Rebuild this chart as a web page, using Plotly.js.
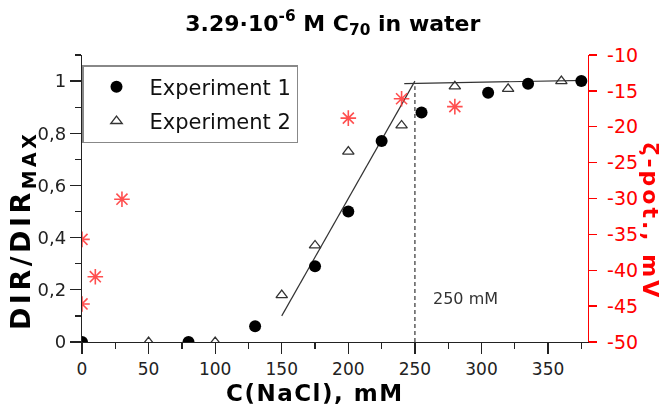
<!DOCTYPE html>
<html>
<head>
<meta charset="utf-8">
<script src="https://cdn.plot.ly/plotly-3.0.1.min.js"></script>
<style>
  html, body { margin: 0; padding: 0; background: #ffffff; }
  #chart { width: 663px; height: 408px; }
</style>
</head>
<body>
<div id="chart"></div>
<script>
// NaCl concentration (mM) and normalised DIR for the two runs
const exp1X = [0, 80, 130, 175, 200, 225, 255, 305, 335, 375];
const exp1Y = [0, 0, 0.06, 0.29, 0.50, 0.77, 0.88, 0.955, 0.99, 1.0];
const exp2X = [50, 100, 150, 175, 200, 240, 280, 320, 360];
const exp2Y = [0, 0, 0.18, 0.37, 0.73, 0.83, 0.98, 0.97, 1.0];

// zeta potential (mV) vs NaCl concentration
const zetaX = [0, 0, 10, 30, 200, 240, 280];
const zetaY = [-35.7, -44.7, -40.9, -30.1, -18.8, -16.1, -17.2];

// linear fits: rising branch, plateau, and the critical concentration
const riseX = [150, 250];
const riseY = [0.10, 1.0];
const plateauX = [242, 378];
const plateauY = [0.99, 1.003];
const cccX = [250, 250];
const cccY = [0, 0.98];

// right-axis tick labels
const zetaTicks = [-50, -45, -40, -35, -30, -25, -20, -15, -10];
const zetaTickText = ['-50', '-45', '-40', '-35', '-30', '-25', '-20', '-15', '-10'];

const FONT = 'DejaVu Sans, Verdana, sans-serif';

const traces = [
  {
    x: riseX, y: riseY, type: 'scatter', mode: 'lines',
    line: { color: '#333333', width: 1.2 }, showlegend: false, hoverinfo: 'skip'
  },
  {
    x: plateauX, y: plateauY, type: 'scatter', mode: 'lines',
    line: { color: '#333333', width: 1.2 }, showlegend: false, hoverinfo: 'skip'
  },
  {
    x: cccX, y: cccY, type: 'scatter', mode: 'lines',
    line: { color: '#666666', width: 1.6, dash: '4px,3px' }, showlegend: false, hoverinfo: 'skip'
  },
  {
    x: zetaX, y: zetaY, yaxis: 'y2', type: 'scatter', mode: 'markers',
    marker: { symbol: 'asterisk-open', size: 13, color: '#ff3030',
              line: { color: '#ff3030', width: 1.6 } },
    opacity: 0.85, showlegend: false
  },
  {
    x: exp1X, y: exp1Y, type: 'scatter', mode: 'markers', name: 'Experiment 1',
    legendgroup: 'e1',
    marker: { symbol: 'circle', size: 12, color: '#000000' }
  },
  {
    x: exp2X, y: exp2Y, type: 'scatter', mode: 'markers', name: 'Experiment 2',
    legendgroup: 'e2',
    marker: { symbol: 'triangle-up-open', size: 10, color: '#333333',
              line: { color: '#333333', width: 1.3 } }
  }
];

const layout = {
  width: 663, height: 408,
  margin: { l: 82, r: 75, t: 55, b: 66, pad: 0 },
  paper_bgcolor: '#ffffff', plot_bgcolor: '#ffffff',
  separators: ',.',
  font: { family: FONT, color: '#222222' },
  title: {
    text: '3.29·10<sup>-6</sup> M C<sub>70</sub> in water',
    font: { family: FONT, size: 22, weight: 'bold', color: '#000000' },
    x: 0.502, xref: 'container', xanchor: 'center',
    y: 0.944, yref: 'container', yanchor: 'middle'
  },
  xaxis: {
    range: [0, 380], dtick: 50, tick0: 0,
    showgrid: false, zeroline: false,
    showline: true, linecolor: '#222222', linewidth: 1.3,
    ticks: 'outside', ticklen: 11, tickwidth: 1.3, tickcolor: '#222222',
    minor: { dtick: 25, ticklen: 6, tickwidth: 1.3, tickcolor: '#222222', showgrid: false },
    tickfont: { family: FONT, size: 17, color: '#222222' }
  },
  yaxis: {
    range: [0, 1.1], dtick: 0.2, tick0: 0,
    showgrid: false, zeroline: false,
    showline: true, linecolor: '#222222', linewidth: 1.3,
    ticks: 'outside', ticklen: 11, tickwidth: 1.3, tickcolor: '#222222',
    minor: { dtick: 0.1, ticklen: 6, tickwidth: 1.3, tickcolor: '#222222', showgrid: false },
    tickfont: { family: FONT, size: 18, color: '#222222' }
  },
  yaxis2: {
    overlaying: 'y', side: 'right', anchor: 'x',
    range: [-50, -10],
    tickmode: 'array', tickvals: zetaTicks, ticktext: zetaTickText,
    showgrid: false, zeroline: false,
    showline: true, linecolor: '#ff0000', linewidth: 1.3,
    ticks: 'outside', ticklen: 8, tickwidth: 1.3, tickcolor: '#ff0000',
    ticklabelstandoff: 6,
    tickfont: { family: FONT, size: 19, color: '#ff0000' }
  },
  legend: {
    x: 0, xref: 'paper', xanchor: 'left',
    y: 0.965, yref: 'paper', yanchor: 'top',
    bgcolor: '#ffffff', bordercolor: '#888888', borderwidth: 1.5,
    font: { family: FONT, size: 21, color: '#111111' },
    traceorder: 'grouped', tracegroupgap: 4, itemwidth: 56
  },
  annotations: [
    {
      text: '<b><span style="letter-spacing:3.5px">DIR/DIR<sub>MAX</sub></span></b>',
      xref: 'paper', yref: 'paper', x: -0.1186, y: 0.39,
      xanchor: 'center', yanchor: 'middle', textangle: -90, showarrow: false,
      font: { family: FONT, size: 27, color: '#000000' }
    },
    {
      text: '<b><span style="letter-spacing:1.5px">C(NaCl), mM</span></b>',
      xref: 'paper', yref: 'paper', x: 0.46, y: -0.177,
      xanchor: 'center', yanchor: 'middle', showarrow: false,
      font: { family: FONT, size: 23, color: '#000000' }
    },
    {
      text: '<b><span style="letter-spacing:3px">ζ-pot., mV</span></b>',
      xref: 'paper', yref: 'paper', x: 1.1245, y: 0.42,
      xanchor: 'center', yanchor: 'middle', textangle: 90, showarrow: false,
      font: { family: FONT, size: 22, color: '#ff0000' }
    },
    {
      text: '250 mM',
      xref: 'x', yref: 'y', x: 262, y: 0.168,
      xanchor: 'left', yanchor: 'middle', showarrow: false,
      font: { family: FONT, size: 16, color: '#333333' }
    }
  ]
};

Plotly.newPlot('chart', traces, layout, { displayModeBar: false, staticPlot: true });
</script>
</body>
</html>
